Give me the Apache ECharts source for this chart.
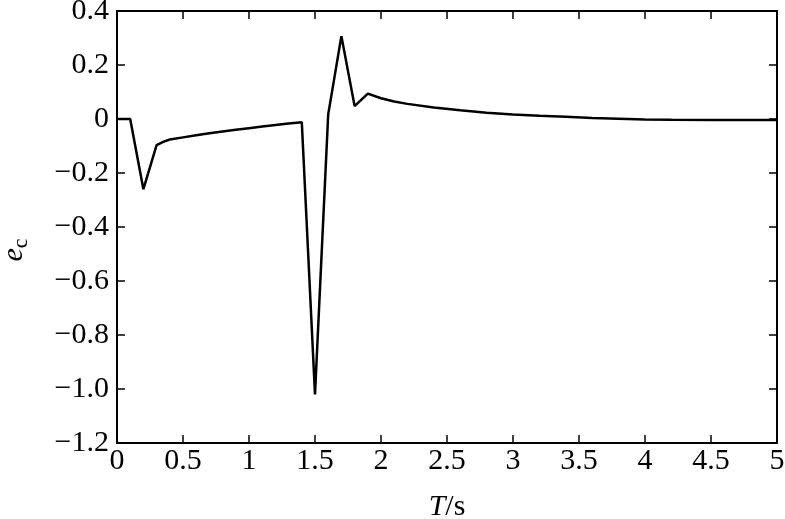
<!DOCTYPE html>
<html>
<head>
<meta charset="utf-8">
<script src="https://cdn.jsdelivr.net/npm/echarts@6/dist/echarts.min.js"></script>
<style>html,body{margin:0;padding:0;background:#fff}#c{width:785px;height:519px}</style>
</head>
<body>
<div id="c"></div>
<script>
const tValues = [0, 0.1, 0.2, 0.3, 0.35, 0.4, 0.5, 0.6, 0.7, 0.8, 0.9, 1.0, 1.1, 1.2, 1.3, 1.4, 1.5, 1.6, 1.7, 1.8, 1.9, 2.0, 2.1, 2.2, 2.4, 2.6, 2.8, 3.0, 3.2, 3.4, 3.6, 3.8, 4.0, 4.2, 4.5, 5.0];
const ecValues = [0, 0, -0.26, -0.097, -0.085, -0.076, -0.068, -0.06, -0.053, -0.046, -0.04, -0.034, -0.028, -0.022, -0.017, -0.012, -1.02, 0.017, 0.307, 0.048, 0.094, 0.077, 0.065, 0.056, 0.043, 0.032, 0.023, 0.017, 0.012, 0.008, 0.004, 0.001, -0.002, -0.003, -0.004, -0.004];
const xTickLabels = ['0', '0.5', '1', '1.5', '2', '2.5', '3', '3.5', '4', '4.5', '5'];
const yTickLabels = ['\u22121.2', '\u22121.0', '\u22120.8', '\u22120.6', '\u22120.4', '\u22120.2', '0', '0.2', '0.4'];

const FONT = '"Liberation Serif", "DejaVu Serif", serif';
const chart = echarts.init(document.getElementById('c'));
const tickStyle = {show: true, inside: true, length: 8, lineStyle: {color: '#000', width: 1.5}};
const axisLine = {show: true, onZero: false, lineStyle: {color: '#000', width: 2}};

chart.setOption({
  animation: false,
  backgroundColor: '#fff',
  grid: {left: 117, top: 11, right: 8, bottom: 76, show: false, containLabel: false, outerBoundsMode: 'none'},
  xAxis: [{
    type: 'value', min: 0, max: 5, interval: 0.5, position: 'bottom',
    axisLine: axisLine, axisTick: tickStyle, splitLine: {show: false},
    axisLabel: {color: '#000', fontFamily: FONT, fontSize: 30, margin: 3,
      formatter: v => xTickLabels[Math.round(v / 0.5)]},
    name: '{i|T}{n|/s}', nameLocation: 'middle', nameGap: 49,
    nameTextStyle: {rich: {
      i: {fontFamily: FONT, fontSize: 30, fontStyle: 'italic', color: '#000'},
      n: {fontFamily: FONT, fontSize: 30, color: '#000'}
    }}
  }, {
    type: 'value', min: 0, max: 5, interval: 0.5, position: 'top',
    axisLine: axisLine, axisTick: tickStyle, axisLabel: {show: false}, splitLine: {show: false}
  }],
  yAxis: [{
    type: 'value', min: -1.2, max: 0.4, interval: 0.2, position: 'left',
    axisLine: axisLine, axisTick: tickStyle, splitLine: {show: false},
    axisLabel: {color: '#000', fontFamily: FONT, fontSize: 30, margin: 8,
      formatter: v => yTickLabels[Math.round((v + 1.2) / 0.2)]},
    name: '{i|e}{s|c}', nameLocation: 'middle', nameGap: 85, nameRotate: 90,
    nameTextStyle: {rich: {
      i: {fontFamily: FONT, fontSize: 30, fontStyle: 'italic', color: '#000'},
      s: {fontFamily: FONT, fontSize: 22, color: '#000', padding: [14, 46, 0, 0]}
    }}
  }, {
    type: 'value', min: -1.2, max: 0.4, interval: 0.2, position: 'right',
    axisLine: axisLine, axisTick: tickStyle, axisLabel: {show: false}, splitLine: {show: false}
  }],
  series: [{
    type: 'line',
    data: tValues.map((t, i) => [t, ecValues[i]]),
    showSymbol: false,
    lineStyle: {color: '#000', width: 2.5},
    xAxisIndex: 0, yAxisIndex: 0
  }]
});
</script>
</body>
</html>
